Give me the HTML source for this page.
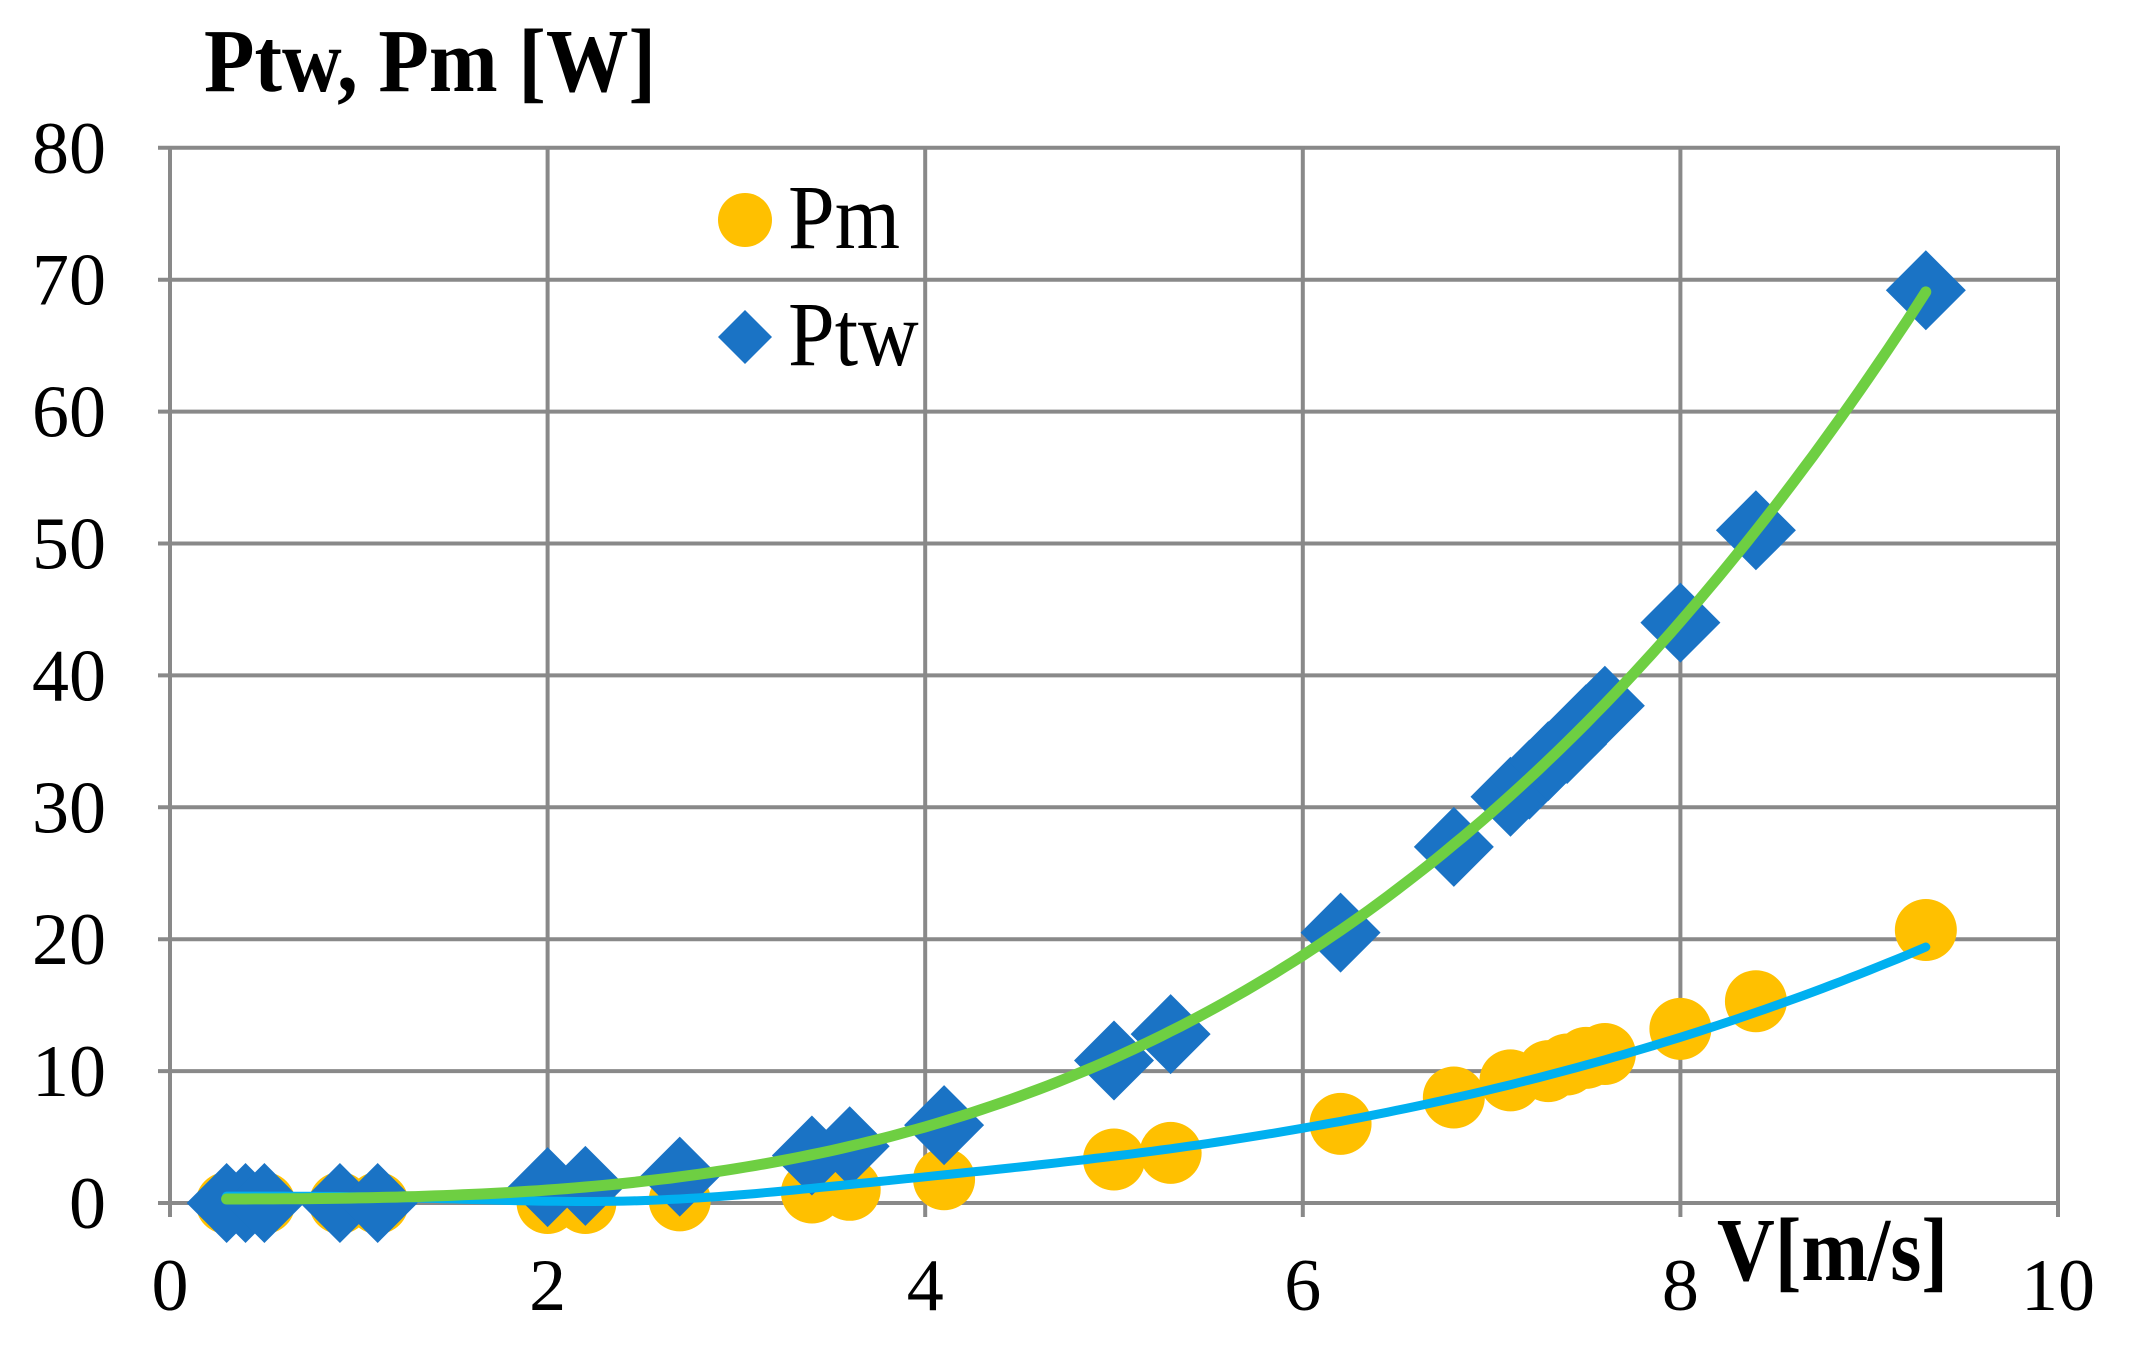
<!DOCTYPE html>
<html><head><meta charset="utf-8"><style>
html,body{margin:0;padding:0;background:#fff;}
svg{display:block;}
text{font-family:"Liberation Serif",serif;fill:#000;}
</style></head><body>
<svg id="s" width="2131" height="1355" xmlns="http://www.w3.org/2000/svg"></svg>
<script>
var s=document.getElementById('s');
var X=function(v){return 170+v*188.8;}, Y=function(v){return 1203-v*13.19;};
var h='';
for(var i=0;i<=8;i++){var y=Y(i*10);h+='<line x1="158" x2="2060" y1="'+y+'" y2="'+y+'" stroke="#898989" stroke-width="4"/>';}
for(var i=0;i<=5;i++){var x=X(i*2);h+='<line x1="'+x+'" x2="'+x+'" y1="146" y2="1217" stroke="#898989" stroke-width="4"/>';}
for(var i=0;i<=8;i++){h+='<text x="106" y="'+(Y(i*10)+25)+'" font-size="74" text-anchor="end">'+(i*10)+'</text>';}
for(var i=0;i<=5;i++){h+='<text x="'+X(i*2)+'" y="1310" font-size="74" text-anchor="middle">'+(i*2)+'</text>';}
h+='<text transform="translate(204,91) scale(1,1.12)" font-size="80" font-weight="bold" textLength="452" lengthAdjust="spacingAndGlyphs">Ptw, Pm [W]</text>';
h+='<text transform="translate(1717,1280) scale(1,1.12)" font-size="80" font-weight="bold" textLength="231" lengthAdjust="spacingAndGlyphs">V[m/s]</text>';
var pm=[[0.3,0],[0.4,0],[0.5,0],[0.9,0],[1.1,0],[2.0,0],[2.2,0],[2.7,0.2],[3.4,0.8],[3.6,1],[4.1,1.8],[5.0,3.3],[5.3,3.8],[6.2,6],[6.8,8],[7.1,9.3],[7.3,10],[7.4,10.5],[7.5,11],[7.6,11.3],[8.0,13.2],[8.4,15.3],[9.3,20.7]];
var pt=[[0.3,0],[0.4,0],[0.5,0],[0.9,0],[1.1,0],[2.0,1.2],[2.2,1.3],[2.7,2],[3.4,3.6],[3.6,4.3],[4.1,5.9],[5.0,10.8],[5.3,12.8],[6.2,20.5],[6.8,27],[7.1,30.8],[7.2,32.1],[7.3,33.5],[7.4,34.8],[7.5,36.3],[7.6,37.7],[8.0,44],[8.4,51],[9.3,69.2]];
pm.forEach(function(p){h+='<circle cx="'+X(p[0])+'" cy="'+Y(p[1])+'" r="31" fill="#FFC000"/>';});
pt.forEach(function(p){var x=X(p[0]),y=Y(p[1]);h+='<polygon points="'+(x-40)+','+y+' '+x+','+(y-40)+' '+(x+40)+','+y+' '+x+','+(y+40)+'" fill="#1A73C5"/>';});
var g='',b='';
for(var v=0.3;v<=9.301;v+=0.05){g+=(g?'L':'M')+X(v).toFixed(1)+','+Y(0.0855*v*v*v+0.3).toFixed(1);
 b+=(b?'L':'M')+X(v).toFixed(1)+','+Y(0.0245*v*v*v-0.02*v*v+0.1*v+0.5-0.35*v*Math.exp(-Math.pow(v-2.2,2)/1.5)).toFixed(1);}
h+='<path d="'+b+'" fill="none" stroke="#00B0F0" stroke-width="9" stroke-linecap="round"/>';
h+='<path d="'+g+'" fill="none" stroke="#6ECF42" stroke-width="11" stroke-linecap="round"/>';
h+='<ellipse cx="745" cy="220" rx="27" ry="27" fill="#FFC000"/>';
h+='<polygon points="718,337 745,310 772,337 745,364" fill="#1A73C5"/>';
h+='<text transform="translate(788,248) scale(1,1.1)" font-size="84">Pm</text>';
h+='<text transform="translate(788,365) scale(1,1.1)" font-size="84">Ptw</text>';
s.innerHTML=h;
</script>
</body></html>
